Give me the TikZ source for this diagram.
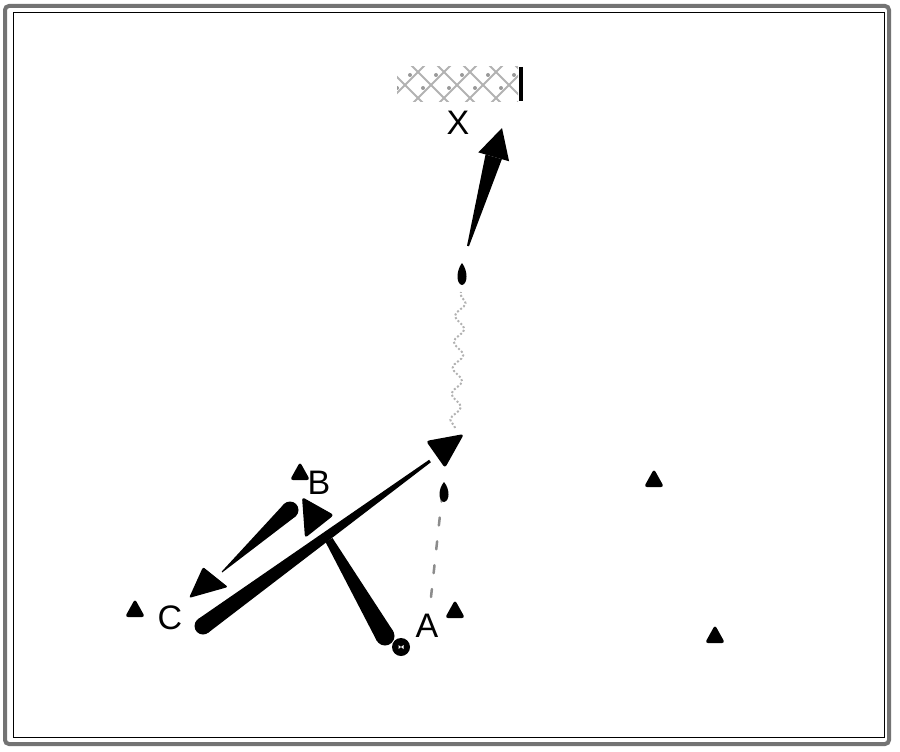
\documentclass[tikz,border=0pt]{standalone}
\usepackage{fontspec}
\setmainfont{Liberation Sans}
\usetikzlibrary{calc,decorations.pathmorphing}
\newcommand\wedgebar[4]{%
  \fill ($(#1)!#3!90:(#2)$) -- ($(#2)!#4!-90:(#1)$) -- ($(#2)!#4!90:(#1)$) -- ($(#1)!#3!-90:(#2)$) -- cycle;}
\newcommand\conemark[1]{%
  \fill[rounded corners=3pt] ($(#1)+(-10,9)$) -- ($(#1)+(0,-9)$) -- ($(#1)+(10,9)$) -- cycle;}
\newcommand\teardrop[2]{% tip, bottom
  \fill (#1) .. controls ($(#1)!0.35!(#2)+(6,0)$) and ($(#2)+(6,-1)$) .. (#2)
        .. controls ($(#2)+(-6,-1)$) and ($(#1)!0.35!(#2)+(-6,0)$) .. (#1);}
\tikzset{
  lbl/.style={inner sep=0pt, font=\fontsize{34}{40}\selectfont},
  frameouter/.style={draw=black!55, line width=4pt, rounded corners=4pt},
  frameinner/.style={draw=black, line width=1pt},
  faint/.style={draw=black!45, line width=2.5pt, line cap=round},
}
\begin{document}
\begin{tikzpicture}[x=1pt,y=-1pt]
\useasboundingbox (0,0) rectangle (900,752);
% frame
\draw[frameouter] (5,6) rectangle (889,744);
\draw[frameinner] (13,13) rectangle (884,737);
% goal
\begin{scope}
  \clip (397,67) rectangle (518,101);
  \foreach \i in {0,...,8}{
    \draw[black!30, line width=2pt] ({380+26*\i},60) -- ({380+26*\i+50},110);
    \draw[black!30, line width=2pt] ({380+26*\i+50},60) -- ({380+26*\i},110);
  }
  \foreach \i in {0,...,5}{
    \fill[black!40] ({397+13+26*\i},75) circle (2pt);
    \fill[black!40] ({397+26*\i},88) circle (2pt);
  }
\end{scope}
\draw[line width=4pt] (521,67) -- (521,101);
% labels
\node[lbl] (X) at (458,123) {X};
\node[lbl] (B) at (319,483) {B};
\node[lbl] (C) at (170,618) {C};
\node[lbl] (A) at (427,626) {A};
% coordinates
\coordinate (shotS) at (468,246);
\coordinate (shotE) at (502,128);
\coordinate (shotH) at ($(shotE)!30pt!(shotS)$);
\coordinate (passS) at (290,510);
\coordinate (passE) at (222,572);
\coordinate (barS) at (203,626);
\coordinate (barE) at (430,461);
\coordinate (wS) at (329,540);
\coordinate (wE) at (385,636);
\coordinate (runS) at (431,597);
\coordinate (runE) at (442,497);
\coordinate (runT) at (444,482);
\coordinate (dribS) at (455,428);
\coordinate (dribE) at (461,292);
\coordinate (dribT) at (462,263);
\coordinate (ball) at (401,647);
% faint run (dashed) from A
\draw[faint, dash pattern=on 8pt off 16pt] (runS) -- (runE);
\teardrop{runT}{$(runT)+(0,20)$}
% dribble (snake)
\draw[black!30, line width=2pt, dotted, decorate, decoration={snake, amplitude=5pt, segment length=26pt}] (dribS) -- (dribE);
\teardrop{dribT}{$(dribT)+(0,22)$}
% shot
\wedgebar{shotS}{shotH}{1pt}{8.5pt}
\fill ($(shotH)!16pt!90:(shotE)$) -- (shotE) -- ($(shotH)!16pt!-90:(shotE)$) -- cycle;
% pass B -> C
\wedgebar{passS}{passE}{8.5pt}{0.5pt}
\fill (passS) circle (8.5pt);
\fill[rounded corners=2pt] (203,567) -- (228,587) -- (189,598) -- cycle;
% long bar from C
\wedgebar{barS}{barE}{8.5pt}{1.5pt}
\fill (barS) circle (8.5pt);
% wedge to ball
\wedgebar{wS}{wE}{4pt}{9.5pt}
\fill (wE) circle (9.5pt);
% big triangle
\fill[rounded corners=3pt] (426,441) -- (464,434) -- (445,468) -- cycle;
% B direction marker
\fill[rounded corners=3pt] (302,497) -- (334,515) -- (305,538) -- cycle;
% cones
\conemark{300,471}
\conemark{135,608}
\conemark{455,609}
\conemark{654,478}
\conemark{715,634}
% ball
\fill (ball) circle (9pt);
\fill[white] ($(ball)+(-2.5,-2)$) -- ($(ball)+(2.5,2)$) -- ($(ball)+(2.5,-2)$) -- ($(ball)+(-2.5,2)$) -- cycle;
\end{tikzpicture}
\end{document}
